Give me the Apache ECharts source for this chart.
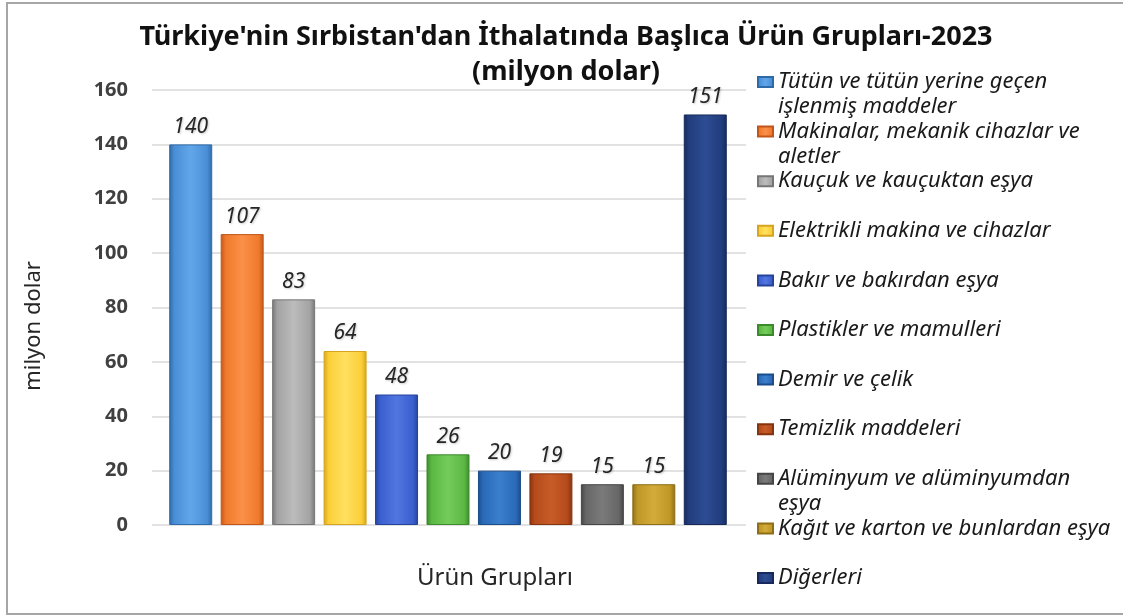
<!DOCTYPE html>
<html>
<head>
  <meta charset="utf-8">
  <title>Türkiye'nin Sırbistan'dan İthalatı 2023</title>
  <script src="https://cdn.jsdelivr.net/npm/echarts@6/dist/echarts.min.js"></script>
  <style>
    html, body { margin: 0; padding: 0; background: #fff; }
    #chart { width: 1123px; height: 616px; }
  </style>
</head>
<body>
<div id="chart"></div>
<script>
  // ürün grupları ve değerler (milyon dolar)
  const categories = [
    'Tütün ve tütün yerine geçen işlenmiş maddeler',
    'Makinalar, mekanik cihazlar ve aletler',
    'Kauçuk ve kauçuktan eşya',
    'Elektrikli makina ve cihazlar',
    'Bakır ve bakırdan eşya',
    'Plastikler ve mamulleri',
    'Demir ve çelik',
    'Temizlik maddeleri',
    'Alüminyum ve alüminyumdan eşya',
    'Kağıt ve karton ve bunlardan eşya',
    'Diğerleri'
  ]
  const values = [140, 107, 83, 64, 48, 26, 20, 19, 15, 15, 151]
  const yTicks = [0, 20, 40, 60, 80, 100, 120, 140, 160]

  // kenar / orta / ışık renkleri
  const barColors = [
    ['#2f6aa8', '#4a8fd6', '#62a6ea'],
    ['#c2561a', '#f07a2c', '#fb9048'],
    ['#767676', '#a3a3a3', '#bcbcbc'],
    ['#d6a41e', '#fbcf38', '#ffe060'],
    ['#26439c', '#3a5fcf', '#5276e0'],
    ['#3c8a2c', '#5bb843', '#74cc5a'],
    ['#1b4d8a', '#2a6ab8', '#3b7fcc'],
    ['#86330f', '#b54a1b', '#c85c28'],
    ['#454545', '#676767', '#7a7a7a'],
    ['#8e6e16', '#be9727', '#d2ab3a'],
    ['#16295a', '#223d7e', '#2d4c93']
  ]

  // lejantta iki satıra bölünen isimler
  // (baştaki boş satır ilk satırı ikonla aynı hizaya getiriyor)
  const legendBreaks = {
    'Tütün ve tütün yerine geçen işlenmiş maddeler': '\nTütün ve tütün yerine geçen\nişlenmiş maddeler',
    'Makinalar, mekanik cihazlar ve aletler': '\nMakinalar, mekanik cihazlar ve\naletler',
    'Alüminyum ve alüminyumdan eşya': '\nAlüminyum ve alüminyumdan\neşya'
  }

  const fontFamily = '"Noto Sans", "Open Sans", sans-serif'

  function barGradient(c) {
    return new echarts.graphic.LinearGradient(0, 0, 1, 0, [
      { offset: 0, color: c[0] },
      { offset: 0.12, color: c[1] },
      { offset: 0.5, color: c[2] },
      { offset: 0.88, color: c[1] },
      { offset: 1, color: c[0] }
    ])
  }

  let series = categories.map((name, i) => {
    return {
      name: name,
      type: 'bar',
      xAxisIndex: 1,
      yAxisIndex: 1,
      stack: 'all',
      barWidth: 43,
      data: values.map((v, j) => (j === i ? v : '-')),
      itemStyle: {
        color: barGradient(barColors[i]),
        borderColor: barColors[i][0],
        borderWidth: 1
      },
      label: {
        show: true,
        position: 'top',
        distance: 7,
        fontFamily: fontFamily,
        fontSize: 21,
        fontStyle: 'italic',
        color: '#262626',
        textShadowColor: 'rgba(0,0,0,0.2)',
        textShadowBlur: 2,
        textShadowOffsetX: 1,
        textShadowOffsetY: 1
      }
    }
  })

  // her lejant kalemi kendi yerinde (ikon merkezleri)
  let legends = categories.map((name, i) => {
    let iconY = 82 + i * 49.6
    let wrapped = !!legendBreaks[name]
    return {
      data: [name],
      left: 757,
      top: wrapped ? iconY - 37.5 : iconY - 12.5,
      padding: 0,
      icon: 'rect',
      itemWidth: 15,
      itemHeight: 10,
      selectedMode: false,
      formatter: n => legendBreaks[n] || n,
      textStyle: {
        fontFamily: fontFamily,
        fontSize: 22,
        fontStyle: 'italic',
        color: '#1a1a1a',
        lineHeight: 25
      }
    }
  })

  let option = {
    backgroundColor: '#ffffff',
    animation: false,
    legend: legends,
    grid: [
      // ızgara çizgileri için
      { left: 152, right: 377, top: 90, bottom: 91 },
      // çubuklar için
      { left: 165, right: 392, top: 90, bottom: 91 }
    ],
    xAxis: [
      { type: 'value', gridIndex: 0, show: false, min: 0, max: 1 },
      { type: 'category', gridIndex: 1, data: categories, show: false }
    ],
    yAxis: [
      {
        type: 'value',
        gridIndex: 0,
        min: yTicks[0],
        max: yTicks[yTicks.length - 1],
        interval: yTicks[1] - yTicks[0],
        axisLine: { show: false },
        axisTick: { show: false },
        axisLabel: {
          margin: 24,
          fontFamily: fontFamily,
          fontSize: 20,
          fontWeight: 'bold',
          color: '#404040'
        },
        splitLine: { lineStyle: { color: '#d9d9d9', width: 1.5 } }
      },
      {
        type: 'value',
        gridIndex: 1,
        min: yTicks[0],
        max: yTicks[yTicks.length - 1],
        show: false,
        splitLine: { show: false }
      }
    ],
    graphic: [
      {
        type: 'rect',
        shape: { x: 7, y: 3, width: 1130, height: 611 },
        style: { fill: 'none', stroke: '#a6a6a6', lineWidth: 2 },
        silent: true
      },
      // başlık
      {
        type: 'text',
        x: 566,
        y: 20,
        style: {
          text: "Türkiye'nin Sırbistan'dan İthalatında Başlıca Ürün Grupları-2023\n(milyon dolar)",
          align: 'center',
          verticalAlign: 'top',
          fontFamily: fontFamily,
          fontSize: 27,
          fontWeight: 'bold',
          lineHeight: 35,
          fill: '#111'
        }
      },
      {
        type: 'text',
        x: 34,
        y: 326,
        rotation: Math.PI / 2,
        style: {
          text: 'milyon dolar',
          align: 'center',
          verticalAlign: 'middle',
          fontFamily: fontFamily,
          fontSize: 22,
          fill: '#262626'
        }
      },
      {
        type: 'text',
        x: 495,
        y: 578,
        style: {
          text: 'Ürün Grupları',
          align: 'center',
          verticalAlign: 'middle',
          fontFamily: fontFamily,
          fontSize: 24,
          fill: '#262626'
        }
      }
    ],
    series: series
  }

  let myChart = echarts.init(document.getElementById('chart'))
  myChart.setOption(option)
</script>
</body>
</html>
